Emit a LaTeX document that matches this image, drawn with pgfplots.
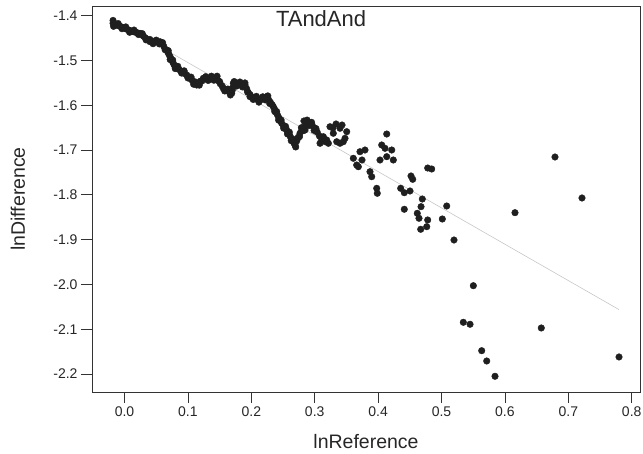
\documentclass[border=0pt]{standalone}
\usepackage{pgfplots}
\pgfplotsset{compat=1.18}
\usepackage{fontspec}
\setmainfont{Liberation Sans}

\begin{document}
\begin{tikzpicture}
\useasboundingbox (-92pt,-62pt) rectangle (551pt,392pt);
\begin{axis}[
    at={(0,0)}, anchor=south west,
    scale only axis, width=548pt, height=386pt,
    xmin=-0.0513, xmax=0.8131,
    ymin=-2.240, ymax=-1.3783,
    xtick={0,0.1,0.2,0.3,0.4,0.5,0.6,0.7,0.8},
    ytick={-2.2,-2.1,-2.0,-1.9,-1.8,-1.7,-1.6,-1.5,-1.4},
    xtick pos=bottom, ytick pos=left,
    tick align=outside, major tick length=11pt,
    tick style={black!80, line width=0.8pt},
    axis line style={black!80, line width=0.9pt},
    /pgf/number format/assume math mode=true,
    /pgf/number format/fixed, /pgf/number format/fixed zerofill,
    /pgf/number format/precision=1,
    tick label style={font=\fontsize{14}{14}\selectfont, text=black!85},
    xlabel={lnReference}, ylabel={lnDifference},
    label style={font=\fontsize{19.5}{19.5}\selectfont, text=black!85},
    xlabel style={at={(axis description cs:0.5,0)}, anchor=base, yshift=-57pt},
    ylabel style={at={(axis description cs:-0.1223,0.5)}, anchor=base, rotate=0},
]
% points along the dense part of the cloud
\addplot[only marks, mark=*, mark size=3.3pt, color=black!88] coordinates {
(-0.0181,-1.4105) (-0.0181,-1.4170) (-0.0173,-1.4237) (-0.0150,-1.4215)
(-0.015,-1.4188) (-0.012,-1.4206) (-0.009,-1.4225) (-0.006,-1.4243)
(-0.003,-1.4261) (0.000,-1.4280) (0.003,-1.4298) (0.006,-1.4316)
(0.009,-1.4334) (0.012,-1.4345) (0.0139,-1.4357) (0.017,-1.4368)
(0.020,-1.4379) (0.0244,-1.4393) (0.027,-1.4424) (0.030,-1.4460)
(0.033,-1.4495) (0.036,-1.4530) (0.0402,-1.4580) (0.043,-1.4575)
(0.046,-1.4585) (0.049,-1.4578) (0.052,-1.4590) (0.056,-1.4580)
(0.059,-1.4633) (0.062,-1.4684) (0.0666,-1.4766) (0.0685,-1.4820)
(0.0703,-1.4872) (0.0722,-1.4925) (0.0741,-1.4978) (0.0760,-1.5032)
(0.0778,-1.5085) (0.0797,-1.5138) (0.083,-1.5171) (0.086,-1.5202)
(0.089,-1.5232) (0.092,-1.5263) (0.095,-1.5293) (0.0981,-1.5324)
(0.101,-1.5365) (0.104,-1.5407) (0.107,-1.5449) (0.110,-1.5492)
(0.1139,-1.5547) (0.117,-1.5502) (0.120,-1.5459) (0.1243,-1.5397)
(0.1275,-1.5410) (0.1305,-1.5390) (0.1335,-1.5405) (0.1365,-1.5385)
(0.1395,-1.5400) (0.1425,-1.5392) (0.1454,-1.5397) (0.148,-1.5453)
(0.151,-1.5517) (0.1558,-1.5620) (0.159,-1.5647) (0.162,-1.5672)
(0.165,-1.5698) (0.1691,-1.5732) (0.1698,-1.5670) (0.1705,-1.5610)
(0.1716,-1.5509) (0.175,-1.5516) (0.178,-1.5522) (0.181,-1.5528)
(0.184,-1.5535) (0.187,-1.5541) (0.1901,-1.5547) (0.1925,-1.5627)
(0.1950,-1.5711) (0.1979,-1.5808) (0.201,-1.5823) (0.204,-1.5837)
(0.207,-1.5851) (0.210,-1.5865) (0.2137,-1.5882) (0.217,-1.5859)
(0.220,-1.5838) (0.2243,-1.5808) (0.227,-1.5866) (0.230,-1.5930)
(0.2347,-1.6031) (0.2366,-1.6084) (0.2385,-1.6137) (0.2404,-1.6190)
(0.2422,-1.6243) (0.2441,-1.6296) (0.2460,-1.6349) (0.2479,-1.6402)
(0.2505,-1.6451) (0.2530,-1.6498) (0.2558,-1.6551) (0.2577,-1.6599)
(0.2596,-1.6647) (0.2614,-1.6695) (0.2633,-1.6742) (0.2652,-1.6790)
(0.2670,-1.6838) (0.2689,-1.6886) (0.2715,-1.6800) (0.2741,-1.6713)
(0.2768,-1.6625) (0.2795,-1.6569) (0.2821,-1.6513) (0.2847,-1.6458)
(0.2874,-1.6402) (0.2900,-1.6402) (0.2926,-1.6402) (0.2965,-1.6458)
(0.3005,-1.6513) (0.3040,-1.6600) (0.3075,-1.6687) (0.3111,-1.6774)
(0.3163,-1.6811) (0.3215,-1.6848) (0.2830,-1.6350) (0.2880,-1.6330)
(0.2847,-1.6551) (0.3084,-1.6848) (0.3189,-1.6775) (0.3241,-1.6478)
(0.3293,-1.6625) (0.3399,-1.6513) (0.3505,-1.6589) (0.3399,-1.6848)
(0.3478,-1.6737) (0.3347,-1.6813) (0.3451,-1.6813) (0.3136,-1.6701)
(0.3288,-1.6505) (0.3431,-1.6440) (0.3336,-1.6417)
};
% neighbouring points that thicken the band
\addplot[only marks, mark=*, mark size=3.3pt, color=black!88] coordinates {
(-0.010,-1.4175) (-0.004,-1.4290) (0.002,-1.4250) (0.008,-1.4370)
(0.015,-1.4320) (0.022,-1.4420) (0.028,-1.4400) (0.034,-1.4540)
(0.040,-1.4530) (0.045,-1.4625) (0.050,-1.4545) (0.055,-1.4630)
(0.060,-1.4600) (0.064,-1.4760) (0.069,-1.4780) (0.072,-1.4980)
(0.076,-1.4990) (0.080,-1.5180) (0.084,-1.5130) (0.090,-1.5280)
(0.094,-1.5230) (0.100,-1.5390) (0.105,-1.5370) (0.109,-1.5530)
(0.112,-1.5480) (0.118,-1.5550) (0.122,-1.5460) (0.128,-1.5360)
(0.132,-1.5445) (0.137,-1.5350) (0.141,-1.5440) (0.146,-1.5350)
(0.150,-1.5470) (0.154,-1.5570) (0.158,-1.5680) (0.163,-1.5640)
(0.167,-1.5770) (0.173,-1.5470) (0.177,-1.5570) (0.182,-1.5480)
(0.186,-1.5590) (0.190,-1.5500) (0.194,-1.5700) (0.198,-1.5760)
(0.203,-1.5870) (0.208,-1.5800) (0.212,-1.5930) (0.218,-1.5810)
(0.222,-1.5880) (0.226,-1.5790) (0.229,-1.5960) (0.233,-1.5990)
(0.237,-1.6140) (0.240,-1.6140) (0.243,-1.6330) (0.247,-1.6330)
(0.251,-1.6510) (0.254,-1.6470) (0.257,-1.6640) (0.260,-1.6600)
(0.263,-1.6790) (0.266,-1.6760) (0.270,-1.6930) (0.273,-1.6740)
(0.276,-1.6700) (0.279,-1.6500) (0.283,-1.6560) (0.286,-1.6390)
(0.291,-1.6450) (0.295,-1.6380) (0.299,-1.6560) (0.302,-1.6520)
};
% scattered points on the right
\addplot[only marks, mark=*, mark size=3.3pt, color=black!88] coordinates {
(0.3609,-1.7183) (0.3688,-1.7371) (0.3714,-1.7036) (0.3793,-1.6998)
(0.3662,-1.7333) (0.3746,-1.7221) (0.3872,-1.7482) (0.3899,-1.7594)
(0.3978,-1.7853) (0.3987,-1.7964) (0.4136,-1.6641) (0.4057,-1.6886)
(0.4109,-1.6960) (0.4215,-1.6998) (0.4030,-1.7221) (0.4136,-1.7147)
(0.4240,-1.7221) (0.4356,-1.7853) (0.4413,-1.7951) (0.4503,-1.7913)
(0.4519,-1.7578) (0.4546,-1.7652) (0.4782,-1.7400) (0.4845,-1.7422)
(0.4697,-1.8092) (0.4413,-1.8321) (0.4677,-1.8263) (0.4618,-1.8411)
(0.4645,-1.8522) (0.4782,-1.8560) (0.4767,-1.8710) (0.4672,-1.8768)
(0.5013,-1.8538) (0.5082,-1.8248) (0.5197,-1.9007) (0.5502,-2.0027)
(0.5344,-2.0844) (0.5450,-2.0888) (0.5634,-2.1478) (0.5713,-2.1708)
(0.5844,-2.2049) (0.6159,-1.8397) (0.6574,-2.0971) (0.7800,-2.1618)
(0.6790,-1.7154) (0.7216,-1.8069)
};
% fitted line
\addplot[color=black!22, line width=0.6pt] coordinates {
(-0.018,-1.4089) (0.780,-2.0561)
};
\node[anchor=base, font=\fontsize{22}{22}\selectfont, text=black!85]
    at (axis description cs:0.418,0.9456) {TAndAnd};
\end{axis}
\end{tikzpicture}
\end{document}
